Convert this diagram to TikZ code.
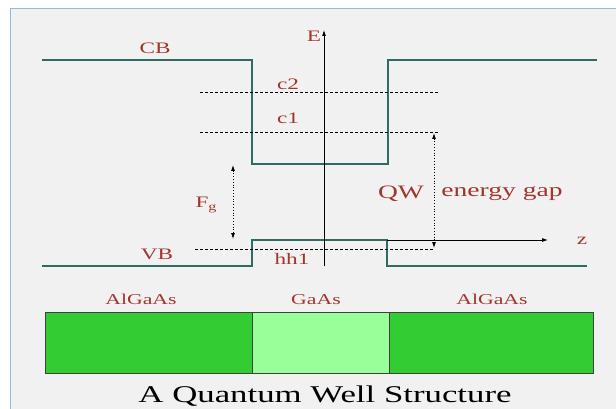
\documentclass[tikz,border=0pt]{standalone}
\usepackage{fontspec}
\setmainfont[FakeStretch=1.45]{Liberation Serif}
\usetikzlibrary{arrows.meta}
\definecolor{bgc}{HTML}{F1F1F1}
\definecolor{framec}{HTML}{8DBFDC}
\definecolor{bandc}{HTML}{2E6B62}
\definecolor{labc}{HTML}{A2352E}
\definecolor{dkgreen}{HTML}{33CC33}
\definecolor{ltgreen}{HTML}{99FF99}
\tikzset{
  x=1pt, y=-1pt,
  band/.style={draw=bandc, line width=2.2pt},
  level/.style={draw=black, line width=0.6pt, dash pattern=on 3pt off 2pt},
  axis/.style={draw=black, line width=0.8pt, -{Latex[length=6pt,width=4pt]}},
  gap/.style={draw=black, line width=0.8pt, dotted, {Latex[length=6pt,width=4pt]}-{Latex[length=6pt,width=4pt]}},
  lab/.style={text=labc, font=\fontsize{16}{16}\selectfont, inner sep=0pt},
  mat/.style={text=labc, font=\fontsize{15}{15}\selectfont, inner sep=0pt, anchor=base},
  layer/.style={draw=black!75, line width=1pt, inner sep=0pt, minimum height=61pt}
}
\begin{document}
\begin{tikzpicture}
\useasboundingbox (0,0) rectangle (616,409);
\fill[white] (0,0) rectangle (616,409);
\filldraw[fill=bgc, draw=framec, line width=1pt] (10,9) rectangle (640,430);

% band edges
\coordinate (cbL) at (42,60);
\coordinate (wL) at (252,60);
\coordinate (wLb) at (252,164);
\coordinate (wRb) at (388,164);
\coordinate (wR) at (388,60);
\coordinate (cbR) at (597,60);
\draw[band] (cbL) -- (wL) -- (wLb) -- (wRb) -- (wR) -- (cbR);
\coordinate (vbL) at (42,266);
\coordinate (vL) at (252,266);
\coordinate (vLt) at (252,240);
\coordinate (vRt) at (387,240);
\coordinate (vR) at (387,266);
\coordinate (vbR) at (587,266);
\draw[band] (vbL) -- (vL) -- (vLt) -- (vRt) -- (vR) -- (vbR);

% axes
\coordinate (eB) at (324,266);
\coordinate (eT) at (324,30);
\draw[axis] (eB) -- (eT);
\coordinate (zS) at (387,240);
\coordinate (zE) at (548,240);
\draw[axis] (zS) -- (zE);

% levels
\coordinate (c2a) at (200,92);  \coordinate (c2b) at (438,92);
\coordinate (c1a) at (200,132); \coordinate (c1b) at (438,132);
\coordinate (h1a) at (195,249); \coordinate (h1b) at (433,249);
\draw[level] (c2a) -- (c2b);
\draw[level] (c1a) -- (c1b);
\draw[level] (h1a) -- (h1b);

% gap arrows
\coordinate (fgT) at (233,165); \coordinate (fgB) at (233,239);
\draw[gap] (fgT) -- (fgB);
\coordinate (qwT) at (434,133); \coordinate (qwB) at (434,248);
\draw[gap] (qwT) -- (qwB);

% labels
\node[lab] (cb) at (155,48) {CB};
\node[lab] (E) at (314,36) {E};
\node[lab] (c2) at (288,84) {c2};
\node[lab] (c1) at (288,118) {c1};
\node[lab] (fg) at (205,205) {F$_{\mathrm{g}}$};
\node[lab, font=\fontsize{19}{19}\selectfont] (qw) at (401,194) {QW};
\node[lab, font=\fontsize{19}{19}\selectfont] (eg) at (502,194) {energy gap};
\node[lab] (vb) at (157,254) {VB};
\node[lab] (hh) at (292,259) {hh1};
\node[lab] (z) at (582,241) {z};

% layers
\node[mat] (m1) at (141,304) {AlGaAs};
\node[mat] (m2) at (316,304) {GaAs};
\node[mat] (m3) at (492,304) {AlGaAs};
\node[layer, fill=dkgreen, minimum width=207pt, anchor=north west] (L1) at (45,312) {};
\node[layer, fill=ltgreen, minimum width=137pt, anchor=north west] (L2) at (252,312) {};
\node[layer, fill=dkgreen, minimum width=204pt, anchor=north west] (L3) at (389,312) {};

\node[inner sep=0pt, anchor=base, font=\fontsize{24}{24}\selectfont] (title) at (325,402) {A Quantum Well Structure};
\end{tikzpicture}
\end{document}
